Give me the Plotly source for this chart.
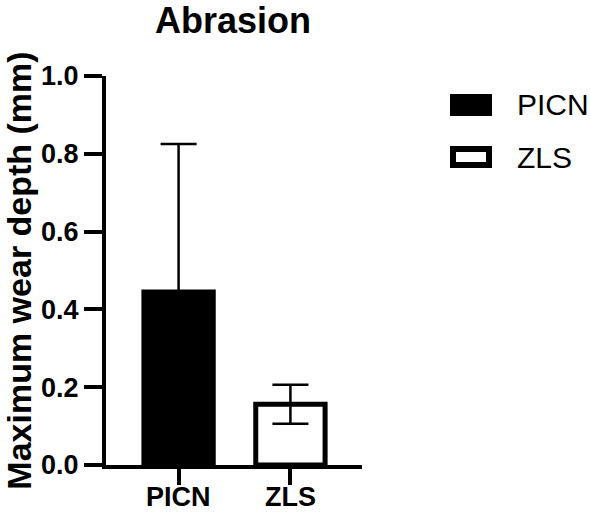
import plotly.graph_objects as go

categories = ["PICN", "ZLS"]
means = [0.445, 0.156]
sd_upper = [0.38, 0.05]
sd_lower = [0.0, 0.05]
fill_colors = ["black", "white"]
y_ticks = [0.0, 0.2, 0.4, 0.6, 0.8, 1.0]

W, H = 590, 515
L, R, T, B = 106, 590 - 362, 76, 515 - 465
pw, ph = W - L - R, H - T - B

def px(x):
    return (x - L) / pw

def py(y):
    return 1 - (y - T) / ph

FONT = "Liberation Sans, Arial, sans-serif"

fig = go.Figure()
fig.add_trace(go.Bar(
    x=categories, y=means, width=0.62,
    marker=dict(color=fill_colors, line=dict(color="black", width=5)),
    error_y=dict(type="data", symmetric=False, array=sd_upper, arrayminus=sd_lower,
                 color="black", thickness=2.5, width=18),
    showlegend=False,
))

fig.update_layout(
    width=W, height=H,
    margin=dict(l=L, r=R, t=T, b=B, pad=0, autoexpand=False),
    plot_bgcolor="white", paper_bgcolor="white",
    title=dict(text="Abrasion", x=px(233), xanchor="center", y=1 - 20 / H, yanchor="middle",
               xref="paper", yref="container",
               font=dict(family=FONT, size=36, color="black", weight="bold")),
    xaxis=dict(range=[-0.649, 1.64], showline=True, linecolor="black", linewidth=4,
               ticks="outside", ticklen=16, tickwidth=4, tickcolor="black",
               showticklabels=False,
               showgrid=False, zeroline=False, automargin=False),
    yaxis=dict(range=[0, 1], tickvals=y_ticks, tickformat=".1f",
               showline=True, linecolor="black", linewidth=4,
               ticks="outside", ticklen=18, tickwidth=4, tickcolor="black",
               tickfont=dict(family=FONT, size=27, color="black", weight="bold"),
               title=dict(text="Maximum wear depth (mm)", standoff=10,
                          font=dict(family=FONT, size=34, color="black", weight="bold")),
               showgrid=False, zeroline=False, automargin=False),
)

# category labels placed close under the axis (as in the reference)
for cat in categories:
    fig.add_annotation(text=cat, xref="x", yref="paper", x=cat, y=py(497),
                       xanchor="center", yanchor="middle", showarrow=False,
                       borderpad=0,
                       font=dict(family=FONT, size=27, color="black", weight="bold"))

# legend drawn manually
legend_items = [("PICN", "black", 105), ("ZLS", "white", 157)]
for name, col, cy in legend_items:
    fig.add_shape(type="rect", xref="paper", yref="paper",
                  x0=px(453), x1=px(489), y0=py(cy - 8), y1=py(cy + 8),
                  fillcolor=col, line=dict(color="black", width=6))
    fig.add_annotation(text=name, xref="paper", yref="paper", x=px(515), y=py(cy),
                       xanchor="left", yanchor="middle", showarrow=False,
                       font=dict(family=FONT, size=30, color="black"))

fig.write_html("out.html")
